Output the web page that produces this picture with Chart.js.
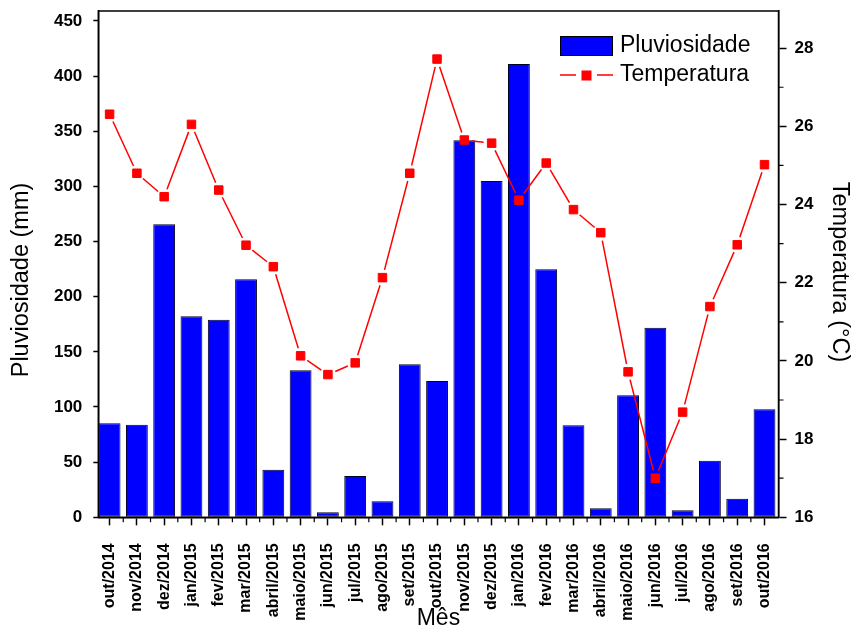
<!DOCTYPE html>
<html>
<head>
<meta charset="utf-8">
<script src="https://cdn.jsdelivr.net/npm/chart.js@4.4.0/dist/chart.umd.min.js"></script>
<style>
  html, body { margin: 0; padding: 0; background: #ffffff; }
  canvas { display: block; }
</style>
</head>
<body>
<canvas id="chart" width="851" height="627"></canvas>
<script>
const months = [
  "out/2014", "nov/2014", "dez/2014", "jan/2015", "fev/2015", "mar/2015", "abril/2015",
  "maio/2015", "jun/2015", "jul/2015", "ago/2015", "set/2015", "out/2015", "nov/2015",
  "dez/2015", "jan/2016", "fev/2016", "mar/2016", "abril/2016", "maio/2016", "jun/2016",
  "jul/2016", "ago/2016", "set/2016", "out/2016"
];
const rainfall = [
  85.2, 84.0, 265.7, 182.2, 179.2, 215.8, 43.2, 133.3, 4.5, 37.4, 14.5, 138.7, 123.6,
  341.8, 304.9, 411.0, 224.9, 83.4, 8.2, 110.6, 171.9, 6.3, 51.3, 16.9, 97.9
];
const temperature = [
  26.31, 24.80, 24.20, 26.05, 24.37, 22.96, 22.41, 20.13, 19.65, 19.95, 22.13, 24.80, 27.72,
  25.65, 25.57, 24.11, 25.06, 23.87, 23.28, 19.72, 17.00, 18.69, 21.39, 22.97, 25.02
];
const rainTicks = [0, 50, 100, 150, 200, 250, 300, 350, 400, 450];
const tempTicks = [16, 18, 20, 22, 24, 26, 28];
const tempMinorTicks = [17, 19, 21, 23, 25, 27];

const fontFamily = "'Liberation Sans', Arial, sans-serif";
const black = "#000000";
const barBlue = "#0000ff";
const lineRed = "#ff0000";
const markerGap = 8;

// gap in the line around every marker, like the original plot
function segmentDash(ctx) {
  const length = Math.hypot(ctx.p1.x - ctx.p0.x, ctx.p1.y - ctx.p0.y);
  return [0, markerGap, Math.max(length - 2 * markerGap, 0), markerGap];
}

function drawRotated(ctx, text, x, y, angle) {
  ctx.save();
  ctx.translate(x, y);
  ctx.rotate(angle);
  ctx.fillText(text, 0, 0);
  ctx.restore();
}

const framePlugin = {
  id: "frameAndLegend",
  afterDraw(chart) {
    const { ctx, chartArea, scales } = chart;
    ctx.save();
    ctx.strokeStyle = black;
    ctx.lineWidth = 1.5;
    ctx.strokeRect(chartArea.left, chartArea.top, chartArea.right - chartArea.left, chartArea.bottom - chartArea.top);

    // minor ticks
    ctx.lineWidth = 1.2;
    ctx.beginPath();
    for (let i = 1; i < months.length; i++) {
      const x = scales.x.getPixelForValue(i + 0.5);
      ctx.moveTo(x, chartArea.bottom);
      ctx.lineTo(x, chartArea.bottom + 5);
    }
    tempMinorTicks.forEach((value) => {
      const y = scales.y1.getPixelForValue(value);
      ctx.moveTo(chartArea.right, y);
      ctx.lineTo(chartArea.right + 5, y);
    });
    ctx.stroke();

    // legend
    ctx.fillStyle = barBlue;
    ctx.fillRect(560.5, 36.5, 52, 19);
    ctx.strokeStyle = black;
    ctx.lineWidth = 1;
    ctx.strokeRect(560.5, 36.5, 52, 19);

    ctx.strokeStyle = lineRed;
    ctx.lineWidth = 1.5;
    ctx.beginPath();
    ctx.moveTo(560, 75);
    ctx.lineTo(576, 75);
    ctx.moveTo(597, 75);
    ctx.lineTo(613, 75);
    ctx.stroke();
    ctx.fillStyle = lineRed;
    ctx.fillRect(581.5, 70.5, 10, 10);

    ctx.fillStyle = black;
    ctx.font = "23px " + fontFamily;
    ctx.textAlign = "left";
    ctx.textBaseline = "middle";
    ctx.fillText("Pluviosidade", 620, 46);
    ctx.fillText("Temperatura", 620, 75);

    // axis titles
    ctx.textAlign = "center";
    ctx.font = "23.5px " + fontFamily;
    drawRotated(ctx, "Pluviosidade (mm)", 22, 280, -Math.PI / 2);
    drawRotated(ctx, "Temperatura (°C)", 839, 272, Math.PI / 2);

    ctx.font = "23px " + fontFamily;
    ctx.textBaseline = "alphabetic";
    ctx.fillText("Mês", (chartArea.left + chartArea.right) / 2, 625);
    ctx.restore();
  }
};

function fixSize(size) {
  return (scale) => {
    scale.paddingTop = 0;
    scale.paddingBottom = 0;
    scale.paddingLeft = 0;
    scale.paddingRight = 0;
    if (scale.isHorizontal()) {
      scale.height = size;
    } else {
      scale.width = size;
    }
  };
}

new Chart(document.getElementById("chart"), {
  type: "bar",
  data: {
    datasets: [
      {
        type: "line",
        label: "Temperatura",
        data: temperature.map((value, i) => ({ x: i + 1, y: value })),
        yAxisID: "y1",
        order: 0,
        borderColor: lineRed,
        borderWidth: 1.5,
        tension: 0,
        pointStyle: "rect",
        pointRadius: 6,
        pointBackgroundColor: lineRed,
        pointBorderColor: lineRed,
        pointBorderWidth: 1,
        segment: {
          borderDash: segmentDash
        }
      },
      {
        type: "bar",
        label: "Pluviosidade",
        data: rainfall.map((value, i) => ({ x: i + 1, y: value })),
        yAxisID: "y",
        order: 1,
        backgroundColor: barBlue,
        borderColor: "#000020",
        borderWidth: 1,
        borderSkipped: false,
        categoryPercentage: 1,
        barPercentage: 0.8
      }
    ]
  },
  options: {
    responsive: false,
    animation: false,
    devicePixelRatio: 1,
    layout: {
      padding: { top: 11, right: 0, bottom: 0, left: 0 }
    },
    plugins: {
      legend: { display: false },
      tooltip: { enabled: false }
    },
    scales: {
      x: {
        type: "linear",
        position: "bottom",
        offset: false,
        min: 0.586,
        max: 25.513,
        afterBuildTicks(scale) {
          scale.ticks = months.map((month, i) => ({ value: i + 1 }));
        },
        afterFit: fixSize(109.7),
        ticks: {
          autoSkip: false,
          minRotation: 90,
          maxRotation: 90,
          padding: 18,
          color: black,
          font: { family: fontFamily, size: 16, weight: "bold" },
          callback(value) {
            return months[value - 1];
          }
        },
        grid: {
          offset: false,
          drawOnChartArea: false,
          drawTicks: true,
          tickLength: 8,
          tickColor: black,
          tickWidth: 1.5
        },
        border: { display: true, color: black, width: 1.5 }
      },
      y: {
        type: "linear",
        position: "left",
        min: 0,
        max: 459,
        afterBuildTicks(scale) {
          scale.ticks = rainTicks.map((value) => ({ value }));
        },
        afterFit: fixSize(98.3),
        ticks: {
          padding: 11,
          color: black,
          font: { family: fontFamily, size: 17, weight: "bold" }
        },
        grid: {
          drawOnChartArea: false,
          tickLength: 5,
          tickColor: black,
          tickWidth: 1.5
        },
        border: { display: true, color: black, width: 1.5 }
      },
      y1: {
        type: "linear",
        position: "right",
        min: 16,
        max: 28.95,
        afterBuildTicks(scale) {
          scale.ticks = tempTicks.map((value) => ({ value }));
        },
        afterFit: fixSize(72.5),
        ticks: {
          padding: 8,
          color: black,
          font: { family: fontFamily, size: 17, weight: "bold" }
        },
        grid: {
          drawOnChartArea: false,
          tickLength: 8,
          tickColor: black,
          tickWidth: 1.5
        },
        border: { display: true, color: black, width: 1.5 }
      }
    }
  },
  plugins: [framePlugin]
});
</script>
</body>
</html>
